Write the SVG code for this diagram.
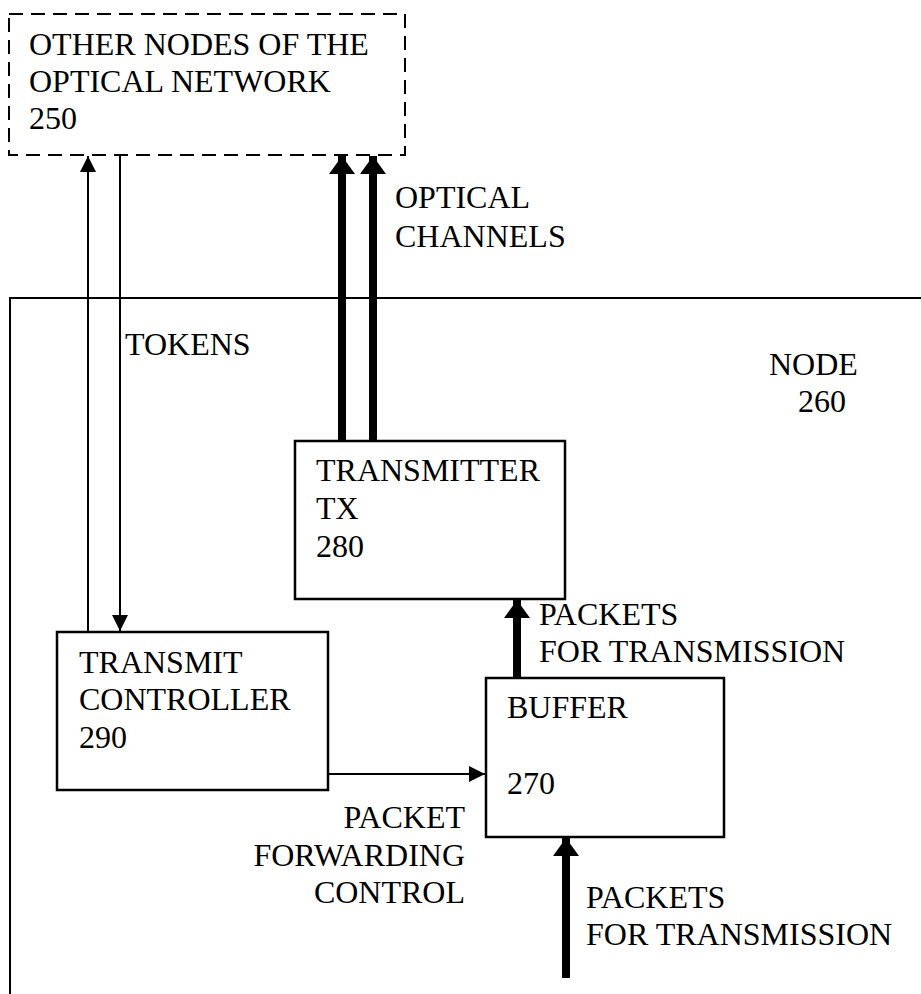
<svg xmlns="http://www.w3.org/2000/svg" width="921" height="994" viewBox="0 0 921 994">
<style>
text{font-family:"Liberation Serif","Times New Roman",serif;font-size:32px;fill:#000}
.box{fill:#fff;stroke:#000;stroke-width:2.5}
.thin{stroke:#000;stroke-width:2;fill:none}
.thick{stroke:#000;stroke-width:8;fill:none}
</style>
<defs>
<marker id="ah" markerUnits="userSpaceOnUse" markerWidth="16" markerHeight="16" refX="16" refY="8" orient="auto"><path d="M0,0 L16,8 L0,16 Z" fill="#000"/></marker>
<marker id="ahb" markerUnits="userSpaceOnUse" markerWidth="18" markerHeight="26" refX="18" refY="13" orient="auto"><path d="M0,0 L18,13 L0,26 Z" fill="#000"/></marker>
</defs>
<rect width="921" height="994" fill="#fff"/>
<g id="node260">
<path d="M921,298 L10,298 L10,994" class="thin" stroke-width="2.5"/>
<text x="769" y="375">NODE</text>
<text x="798" y="412">260</text>
</g>
<g id="node250">
<rect x="9" y="14" width="396" height="141" fill="#fff" stroke="#000" stroke-width="2" stroke-dasharray="14,8"/>
<text x="29" y="55">OTHER NODES OF THE</text>
<text x="29" y="92">OPTICAL NETWORK</text>
<text x="29" y="129">250</text>
</g>
<g id="node280">
<rect x="295" y="441" width="270" height="158" class="box"/>
<text x="316" y="481">TRANSMITTER</text>
<text x="316" y="519">TX</text>
<text x="316" y="557">280</text>
</g>
<g id="node290">
<rect x="57" y="632" width="271" height="158" class="box"/>
<text x="79" y="673">TRANSMIT</text>
<text x="79" y="710">CONTROLLER</text>
<text x="79" y="748">290</text>
</g>
<g id="node270">
<rect x="486" y="678" width="238" height="159" class="box"/>
<text x="507" y="718">BUFFER</text>
<text x="507" y="794">270</text>
</g>
<g id="connectors">
<line x1="88" y1="632" x2="88" y2="156" class="thin" marker-end="url(#ah)"/>
<line x1="120" y1="155" x2="120" y2="631" class="thin" marker-end="url(#ah)"/>
<line x1="342" y1="441" x2="342" y2="156" class="thick" marker-end="url(#ahb)"/>
<line x1="373" y1="441" x2="373" y2="156" class="thick" marker-end="url(#ahb)"/>
<line x1="517" y1="678" x2="517" y2="600" class="thick" marker-end="url(#ahb)"/>
<line x1="566" y1="978" x2="566" y2="838" class="thick" marker-end="url(#ahb)"/>
<line x1="328" y1="774" x2="485" y2="774" class="thin" marker-end="url(#ah)"/>
</g>
<g id="labels">
<text x="395" y="208">OPTICAL</text>
<text x="395" y="247">CHANNELS</text>
<text x="125" y="355">TOKENS</text>
<text x="539" y="625">PACKETS</text>
<text x="539" y="662">FOR TRANSMISSION</text>
<text x="465" y="828" text-anchor="end">PACKET</text>
<text x="465" y="866" text-anchor="end">FORWARDING</text>
<text x="465" y="903" text-anchor="end">CONTROL</text>
<text x="586" y="908">PACKETS</text>
<text x="586" y="945">FOR TRANSMISSION</text>
</g>
</svg>
